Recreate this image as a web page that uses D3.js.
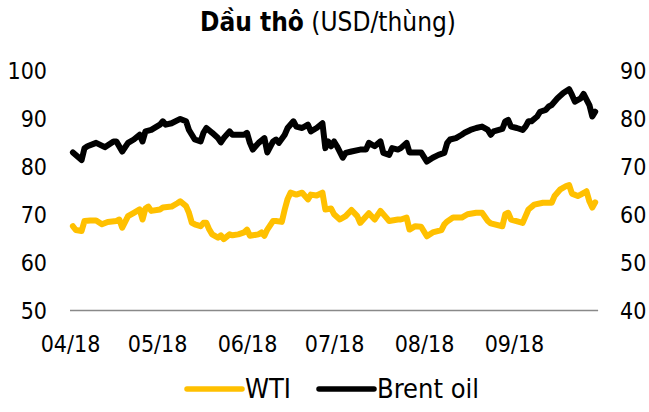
<!DOCTYPE html>
<html><head><meta charset="utf-8">
<script src="https://cdn.jsdelivr.net/npm/d3@7/dist/d3.min.js"></script>
<style>body{margin:0;background:#fff} svg{display:block}</style>
</head><body><svg id="c" width="649" height="412"></svg>
<script>
// ---- data ----
const brentDates = [
"2018-04-02","2018-04-05","2018-04-06","2018-04-07","2018-04-10","2018-04-13","2018-04-16","2018-04-17","2018-04-19","2018-04-21","2018-04-23","2018-04-25","2018-04-26","2018-04-27","2018-04-29",
"2018-05-02","2018-05-03","2018-05-04","2018-05-06","2018-05-09","2018-05-11","2018-05-12","2018-05-13","2018-05-14","2018-05-16","2018-05-17","2018-05-18","2018-05-20","2018-05-22","2018-05-23","2018-05-24","2018-05-26","2018-05-27","2018-05-28","2018-05-31",
"2018-06-01","2018-06-02","2018-06-03","2018-06-05","2018-06-07","2018-06-08","2018-06-10","2018-06-11","2018-06-12","2018-06-14","2018-06-15","2018-06-17","2018-06-18","2018-06-20","2018-06-22","2018-06-23","2018-06-25","2018-06-27","2018-06-28","2018-06-29","2018-06-30",
"2018-07-01","2018-07-02","2018-07-04","2018-07-05","2018-07-07","2018-07-10","2018-07-12","2018-07-13","2018-07-15","2018-07-17","2018-07-18","2018-07-20","2018-07-21","2018-07-23","2018-07-24","2018-07-26","2018-07-27","2018-07-29","2018-07-31",
"2018-08-02","2018-08-04","2018-08-06","2018-08-08","2018-08-09","2018-08-10","2018-08-12","2018-08-14","2018-08-15","2018-08-17","2018-08-19","2018-08-21","2018-08-23","2018-08-24","2018-08-25","2018-08-28","2018-08-29","2018-08-30","2018-08-31",
"2018-09-02","2018-09-04","2018-09-05","2018-09-06","2018-09-07","2018-09-09","2018-09-10","2018-09-12","2018-09-13","2018-09-14","2018-09-16","2018-09-18","2018-09-20","2018-09-21","2018-09-22","2018-09-24","2018-09-25","2018-09-27","2018-09-28","2018-09-29"];
const brentValues = [
73.1,71.5,74.0,74.4,75.1,74.2,75.4,75.4,73.3,75.1,75.8,76.8,75.4,77.5,77.8,
78.9,79.6,78.9,79.2,80.1,79.6,77.8,76.8,75.8,75.4,77.2,78.2,77.2,76.1,75.2,76.1,77.5,76.8,76.8,76.8,
77.2,75.1,73.7,75.1,76.1,73.1,75.4,75.8,75.1,76.8,78.2,79.6,78.5,78.2,78.9,77.5,78.2,79.2,74.0,75.4,74.4,
75.4,74.4,72.0,73.0,73.3,73.7,73.7,75.1,74.4,75.4,73.0,72.6,74.0,73.7,74.0,75.1,73.1,73.1,73.1,
71.2,72.0,72.6,73.0,75.1,75.8,76.1,76.8,77.2,77.8,78.2,78.5,77.8,76.8,77.5,78.0,79.6,79.9,78.5,
78.2,77.8,78.5,79.6,79.6,80.6,81.6,82.0,82.7,83.0,84.4,85.5,86.3,85.1,83.7,84.4,85.3,83.0,80.6,81.6];

const wtiDates = [
"2018-04-02","2018-04-03","2018-04-05","2018-04-06","2018-04-08","2018-04-10","2018-04-12","2018-04-14","2018-04-17","2018-04-18","2018-04-19","2018-04-21","2018-04-23","2018-04-25","2018-04-26","2018-04-27","2018-04-28","2018-04-29",
"2018-05-02","2018-05-03","2018-05-06","2018-05-08","2018-05-09","2018-05-11","2018-05-12","2018-05-13","2018-05-14","2018-05-16","2018-05-17","2018-05-18","2018-05-19","2018-05-20","2018-05-22","2018-05-23","2018-05-24","2018-05-26","2018-05-27","2018-05-29","2018-05-31",
"2018-06-01","2018-06-02","2018-06-03","2018-06-05","2018-06-06","2018-06-07","2018-06-08","2018-06-10","2018-06-11","2018-06-13","2018-06-14","2018-06-15","2018-06-16","2018-06-18","2018-06-20","2018-06-22","2018-06-23","2018-06-25","2018-06-27","2018-06-28","2018-06-30",
"2018-07-01","2018-07-03","2018-07-05","2018-07-07","2018-07-09","2018-07-10","2018-07-13","2018-07-15","2018-07-17","2018-07-19","2018-07-20","2018-07-23","2018-07-24","2018-07-26","2018-07-27","2018-07-29","2018-07-31",
"2018-08-02","2018-08-04","2018-08-07","2018-08-08","2018-08-09","2018-08-11","2018-08-14","2018-08-16","2018-08-19","2018-08-21","2018-08-23","2018-08-24","2018-08-28","2018-08-29","2018-08-30","2018-08-31",
"2018-09-04","2018-09-06","2018-09-08","2018-09-11","2018-09-14","2018-09-15","2018-09-17","2018-09-19","2018-09-20","2018-09-21","2018-09-23","2018-09-24","2018-09-26","2018-09-27","2018-09-28","2018-09-29"];
const wtiValues = [
67.7,66.9,66.7,68.8,68.9,68.9,68.1,68.6,68.8,69.1,67.4,69.8,70.5,71.2,69.1,71.4,71.8,70.9,
71.2,71.6,71.8,72.5,72.9,71.9,70.5,68.4,68.1,67.7,68.4,68.4,67.0,66.0,65.3,65.8,65.0,66.0,65.8,66.0,66.4,
67.0,65.7,65.8,66.0,66.4,65.7,67.0,68.8,68.8,68.6,71.2,73.4,74.7,74.3,74.7,73.3,74.3,74.1,74.7,71.2,71.4,
70.2,69.1,69.8,71.1,69.8,68.4,70.4,69.1,70.9,69.5,68.8,69.1,69.1,69.5,67.0,67.7,67.6,
65.6,66.4,66.9,68.1,68.7,69.5,69.5,70.2,70.5,70.5,68.8,68.3,67.7,70.2,70.5,69.1,
68.4,71.2,72.2,72.6,72.6,74.0,75.4,76.1,76.3,74.5,74.0,74.3,75.0,72.9,71.6,72.7];

const monthTicks = ["2018-04-01","2018-05-01","2018-06-01","2018-07-01","2018-08-01","2018-09-01"];
const monthLabels = ["04/18","05/18","06/18","07/18","08/18","09/18"];
const leftTicks = [50,60,70,80,90,100];
const rightTicks = [40,50,60,70,80,90];
const seriesNames = ["WTI","Brent oil"];
const seriesColors = ["#FFC000","#000000"];

// ---- chart ----
const parse = d3.timeParse("%Y-%m-%d");
const svg = d3.select("#c");
const FONT = "'DejaVu Sans Condensed','DejaVu Sans',sans-serif";

const x = d3.scaleTime().domain([parse("2018-04-01"), parse("2018-10-01")]).range([70, 601]);
const yL = d3.scaleLinear().domain([50, 100]).range([311, 71.5]);
const yR = d3.scaleLinear().domain([40, 90]).range([311, 71.5]);

// title
const title = svg.append("text").attr("x", 328).attr("y", 31)
  .attr("text-anchor", "middle").style("font-family", FONT).style("font-size", "26px").attr("fill", "#000");
title.append("tspan").attr("font-weight", "bold").text("Dầu thô");
title.append("tspan").text(" (USD/thùng)");

// left axis
const axL = d3.axisLeft(yL).tickValues(leftTicks).tickSize(0).tickPadding(0);
const gL = svg.append("g").attr("transform", "translate(47,0)").call(axL);
gL.select(".domain").remove();
gL.selectAll("text").style("font-family", FONT).style("font-size", "23px").attr("fill", "#000");

// right axis
const axR = d3.axisRight(yR).tickValues(rightTicks).tickSize(0).tickPadding(0);
const gR = svg.append("g").attr("transform", "translate(620,0)").call(axR);
gR.select(".domain").remove();
gR.selectAll("text").style("font-family", FONT).style("font-size", "23px").attr("fill", "#000");

// bottom axis labels
const axB = d3.axisBottom(x).tickValues(monthTicks.map(parse))
  .tickFormat((d, i) => monthLabels[i]).tickSize(0).tickPadding(0);
const gB = svg.append("g").attr("transform", "translate(0,336)").call(axB);
gB.select(".domain").remove();
gB.selectAll("text").attr("dy", "0.71em").style("font-family", FONT).style("font-size", "23px").attr("fill", "#000");

// baseline
svg.append("line")
  .attr("x1", x(parse("2018-04-01"))).attr("x2", x(parse("2018-09-30")))
  .attr("y1", yL(50) - 0.5).attr("y2", yL(50) - 0.5)
  .attr("stroke", "#898989").attr("stroke-width", 1.5);

// lines
const wtiData = wtiDates.map((d, i) => ({ date: parse(d), v: wtiValues[i] }));
const brentData = brentDates.map((d, i) => ({ date: parse(d), v: brentValues[i] }));

const lineL = d3.line().x(d => x(d.date)).y(d => yL(d.v));
const lineR = d3.line().x(d => x(d.date)).y(d => yR(d.v));

svg.append("path").datum(wtiData).attr("d", lineL)
  .attr("fill", "none").attr("stroke", seriesColors[0]).attr("stroke-width", 6)
  .attr("stroke-linejoin", "round").attr("stroke-linecap", "round");
svg.append("path").datum(brentData).attr("d", lineR)
  .attr("fill", "none").attr("stroke", seriesColors[1]).attr("stroke-width", 6)
  .attr("stroke-linejoin", "round").attr("stroke-linecap", "round");

// legend
const legX = [187, 319];
const legY = 389;
seriesNames.forEach((name, i) => {
  svg.append("line").attr("x1", legX[i]).attr("x2", legX[i] + 55)
    .attr("y1", legY).attr("y2", legY)
    .attr("stroke", seriesColors[i]).attr("stroke-width", 5.5).attr("stroke-linecap", "round");
  svg.append("text").attr("x", legX[i] + 58).attr("y", legY).attr("dy", "0.35em")
    .style("font-family", FONT).style("font-size", "27px").attr("fill", "#000").text(name);
});
</script>
</body></html>
